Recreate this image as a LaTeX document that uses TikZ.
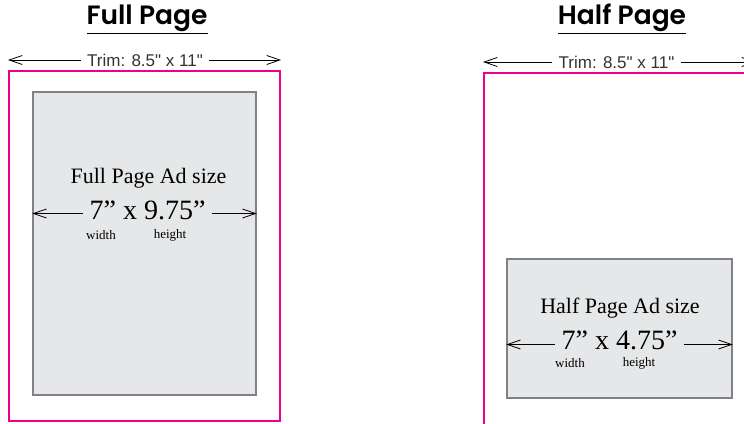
\documentclass[tikz,border=0pt]{standalone}
\usepackage{fontspec}
\setmainfont{Liberation Serif}
\newfontfamily\trimfont{Liberation Sans}
\newfontfamily\headfont{Poppins SemiBold}
\usepackage{tikz}
\usetikzlibrary{arrows.meta,positioning}
\usepackage{xcolor}
\definecolor{trimpink}{HTML}{EC008C}
\definecolor{adfill}{HTML}{E6E7E8}
\definecolor{adedge}{HTML}{808285}

\begin{document}
\begin{tikzpicture}[x=1pt,y=-1pt,->,>={Straight Barb[length=13pt,width=9pt]},
                    line width=0.8pt]
  \tikzstyle{page title}=[font=\headfont\fontsize{26.5}{30}\selectfont,inner sep=0pt]
  \tikzstyle{trim label}=[font=\trimfont\fontsize{17}{20}\selectfont,text=black!80,inner sep=6pt]
  \tikzstyle{trim page}=[draw=trimpink,line width=2pt,fill=white,inner sep=0pt]
  \tikzstyle{ad box}=[draw=adedge,line width=1.5pt,fill=adfill,inner sep=0pt]
  \tikzstyle{ad name}=[font=\fontsize{22}{26}\selectfont,inner sep=0pt]
  \tikzstyle{ad size}=[font=\fontsize{28}{32}\selectfont,inner sep=6pt]
  \tikzstyle{dim label}=[font=\fontsize{13}{15}\selectfont,inner sep=0pt]

  \useasboundingbox (0,0) rectangle (744,423);
  \clip (0,0) rectangle (744,423);

  % full page
  \node[page title] (fulltitle) at (147,19) {\underline{Full Page}};
  \node[trim page,minimum width=271pt,minimum height=350pt] (fullpage) at (144.5,246) {};
  \node[ad box,minimum width=223pt,minimum height=303pt] (fullad) at (144.5,243.5) {};
  \node[trim label] (fulltrim) at (145,60) {Trim: 8.5" x 11"};
  \node[ad name] (fullname) at (148.5,178) {Full Page Ad size};
  \node[ad size] (fullsize) at (147.5,210) {7” x 9.75”};
  \node[dim label] (fullwidth) at (101,235) {width};
  \node[dim label] (fullheight) at (170,235) {height};
  \coordinate (fl) at ([yshift=-3.5pt]fullsize.west);
  \coordinate (fr) at ([yshift=-3.5pt]fullsize.east);

  \draw (fulltrim.west) -- (fulltrim.west -| fullpage.west);
  \draw (fulltrim.east) -- (fulltrim.east -| fullpage.east);
  \draw (fl) -- (fl -| fullad.west);
  \draw (fr) -- (fr -| fullad.east);

  % half page
  \node[page title] (halftitle) at (622,19) {\underline{Half Page}};
  \node[trim page,minimum width=271pt,minimum height=370pt] (halfpage) at (619.5,258) {};
  \node[ad box,minimum width=225pt,minimum height=139pt] (halfad) at (619.5,328.5) {};
  \node[trim label] (halftrim) at (616.5,62) {Trim: 8.5" x 11"};
  \node[ad name] (halfname) at (620,308) {Half Page Ad size};
  \node[ad size] (halfsize) at (619.5,340) {7” x 4.75”};
  \node[dim label] (halfwidth) at (570,363) {width};
  \node[dim label] (halfheight) at (639,363) {height};
  \coordinate (hl) at ([yshift=-4.5pt]halfsize.west);
  \coordinate (hr) at ([yshift=-4.5pt]halfsize.east);

  \draw (halftrim.west) -- (halftrim.west -| halfpage.west);
  \draw (halftrim.east) -- (halftrim.east -| halfpage.east);
  \draw (hl) -- (hl -| halfad.west);
  \draw (hr) -- (hr -| halfad.east);
\end{tikzpicture}
\end{document}
